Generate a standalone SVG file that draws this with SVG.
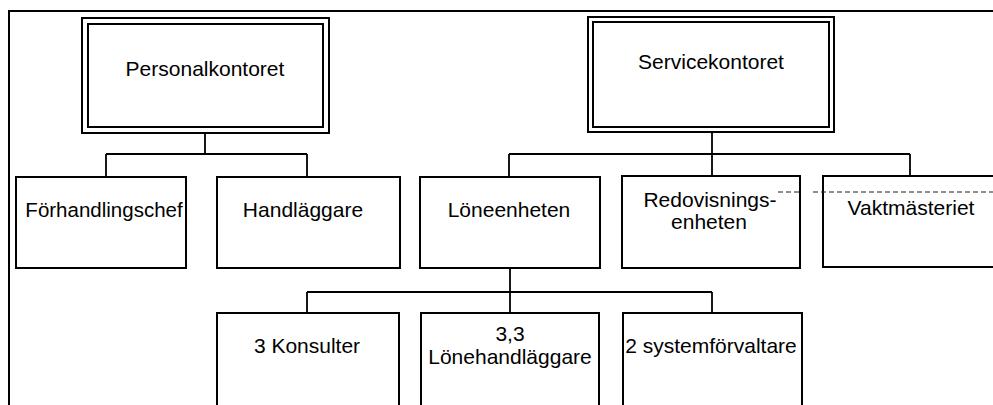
<svg xmlns="http://www.w3.org/2000/svg" width="993" height="405" viewBox="0 0 993 405">
<style>
.box{fill:#fff;stroke:#000;stroke-width:2}
.con{fill:none;stroke:#000;stroke-width:1.8}
.frame{fill:none;stroke:#000;stroke-width:2}
.dash{fill:none;stroke:#222;stroke-width:1;stroke-dasharray:5 3}
text{font-family:"Liberation Sans",Arial,sans-serif;font-size:21px;fill:#000;text-anchor:middle}
</style>
<rect width="993" height="405" fill="#fff"/>
<g id="frame">
<path class="frame" d="M9 405 V11 H993"/>
</g>
<g id="connectors">
<path class="con" d="M205 133 V154 M106 154 H307 M106 154 V177 M307 154 V177"/>
<path class="con" d="M712 132 V176 M509 154 H910 M509 154 V177 M910 154 V176"/>
<path class="con" d="M510 268 V313 M307 292 H712 M307 292 V313 M712 292 V313"/>
</g>
<g id="personalkontoret">
<rect class="box" x="82" y="18" width="247" height="115"/>
<rect class="box" x="88" y="24" width="235" height="103"/>
<text x="205" y="76">Personalkontoret</text>
</g>
<g id="servicekontoret">
<rect class="box" x="588" y="17" width="246" height="115"/>
<rect class="box" x="593" y="22" width="236" height="105"/>
<text x="711" y="69">Servicekontoret</text>
</g>
<g id="forhandlingschef">
<rect class="box" x="16" y="177" width="170" height="91"/>
<text x="104" y="217" style="font-size:20.5px">Förhandlingschef</text>
</g>
<g id="handlaggare">
<rect class="box" x="217" y="177" width="183" height="91"/>
<text x="303" y="217">Handläggare</text>
</g>
<g id="loneenheten">
<rect class="box" x="420" y="177" width="180" height="91"/>
<text x="509" y="217">Löneenheten</text>
</g>
<g id="redovisningsenheten">
<rect class="box" x="622" y="176" width="178" height="92"/>
<text x="710" y="207">Redovisnings-</text>
<text x="709" y="229">enheten</text>
</g>
<g id="vaktmasteriet">
<rect class="box" x="823" y="176" width="185" height="91"/>
<text x="911" y="215">Vaktmästeriet</text>
</g>
<g id="dotted-line">
<path class="dash" d="M778 192 H800 M813 192 H993"/>
</g>
<g id="konsulter">
<rect class="box" x="217" y="313" width="182" height="100"/>
<text x="307" y="353">3 Konsulter</text>
</g>
<g id="lonehandlaggare">
<rect class="box" x="421" y="313" width="178" height="100"/>
<text x="510" y="341">3,3</text>
<text x="510" y="364">Lönehandläggare</text>
</g>
<g id="systemforvaltare">
<rect class="box" x="623" y="313" width="179" height="100"/>
<text x="711" y="353">2 systemförvaltare</text>
</g>
</svg>
